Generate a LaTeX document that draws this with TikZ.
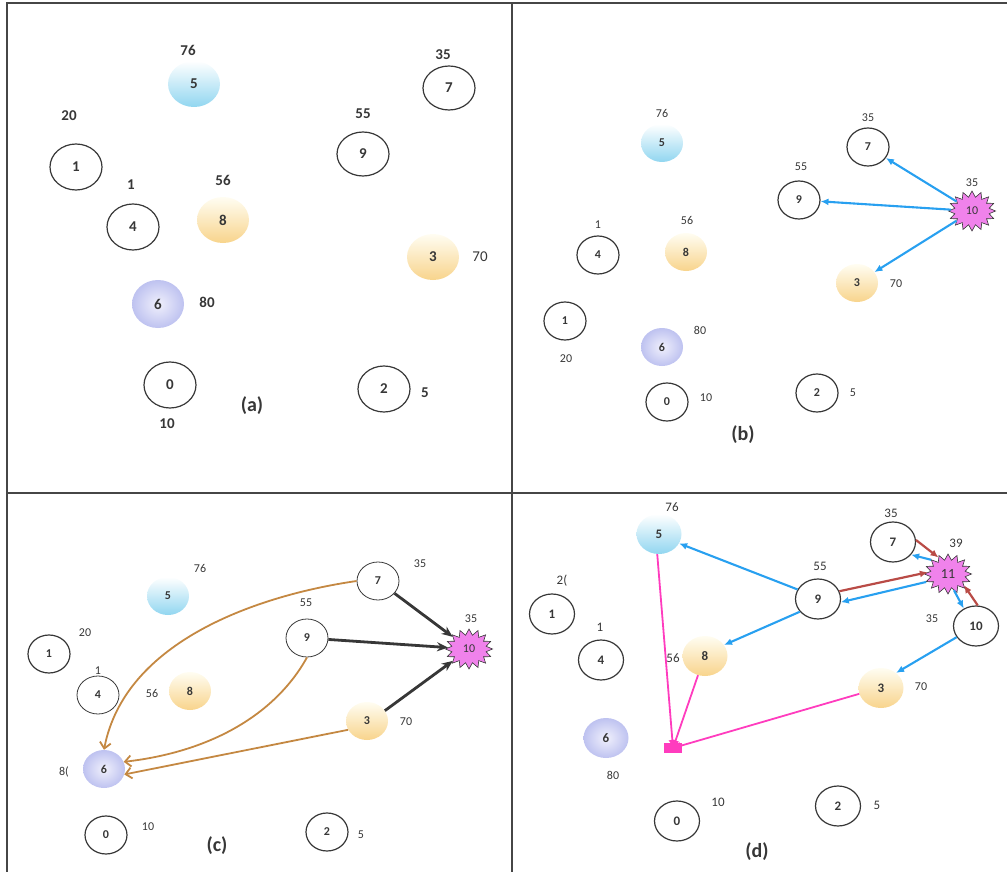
\documentclass[tikz,border=0pt]{standalone}
\usepackage{fontspec}
\setmainfont{Carlito}
\usetikzlibrary{shapes.geometric,shapes.symbols,arrows.meta}
\definecolor{txt}{RGB}{55,55,55}
\definecolor{frame}{RGB}{70,70,70}
\definecolor{cyanb}{RGB}{145,214,240}
\definecolor{orangeb}{RGB}{248,212,140}
\definecolor{blueb}{RGB}{190,194,240}
\definecolor{starfill}{RGB}{240,130,235}
\definecolor{arrblue}{RGB}{40,160,240}
\definecolor{arrbrown}{RGB}{196,136,66}
\definecolor{arrred}{RGB}{185,75,70}
\definecolor{arrpink}{RGB}{255,60,190}
\definecolor{arrblack}{RGB}{55,55,55}
\tikzset{
  ring/.style={ellipse, draw=txt, line width=1.2pt, inner sep=0pt, text=txt},
  cball/.style={ellipse, inner sep=0pt, text=txt, top color=white, bottom color=cyanb},
  oball/.style={ellipse, inner sep=0pt, text=txt, top color={rgb,255:red,255;green,253;blue,242}, bottom color=orangeb},
  bball/.style={ellipse, inner sep=0pt, text=txt, inner color={rgb,255:red,240;green,240;blue,252}, outer color=blueb},
  burst/.style={starburst, starburst points=16, starburst point height=6pt, random starburst=0,
     fill=starfill, draw=txt, line width=0.6pt, inner sep=0pt, text=txt},
  bigsz/.style={minimum width=52pt, minimum height=46pt, font=\fontsize{15}{15}\selectfont\bfseries},
  smsz/.style={minimum width=42pt, minimum height=38pt, font=\fontsize{12}{12}\selectfont\bfseries},
  dsz/.style={minimum width=45pt, minimum height=40pt, font=\fontsize{13}{13}\selectfont\bfseries},
  burstsz/.style={minimum width=47pt, minimum height=40pt, font=\fontsize{12}{12}\selectfont},
  labA/.style={inner sep=0pt, text=txt, font=\fontsize{15}{15}\selectfont\bfseries},
  labS/.style={inner sep=0pt, text=txt, font=\fontsize{12}{12}\selectfont},
  tag/.style={inner sep=0pt, text=txt, font=\fontsize{20}{20}\selectfont\bfseries},
  bluearr/.style={draw=arrblue, line width=2.1pt, -{Latex[length=8pt,width=7pt]}},
  redarr/.style={draw=arrred, line width=2.2pt, -{Latex[length=8pt,width=7pt]}},
  blackarr/.style={draw=arrblack, line width=2.8pt, -{Stealth[length=11pt,width=9pt]}},
  brownarr/.style={draw=arrbrown, line width=1.8pt, -{Straight Barb[length=6pt,width=11pt,line width=1.8pt]}},
  pinkarr/.style={draw=arrpink, line width=1.8pt, -{Latex[length=8pt,width=8pt]}},
}
\begin{document}
\begin{tikzpicture}[x=1pt,y=-1pt]
\useasboundingbox (0,0) rectangle (1007,872);
% frame
\draw[frame, line width=1.4pt] (7,872) -- (7,3) -- (1007,3);
\draw[frame, line width=1.4pt] (512,3) -- (512,872);
\draw[frame, line width=1.4pt] (7,493) -- (1007,493);

% ---------------- panel (a)
\node[cball,bigsz] (a5) at (194,84) {5};
\node[labA] (a5l) at (188,50) {76};
\node[ring,bigsz,minimum height=44pt] (a7) at (449,88) {7};
\node[labA] (a7l) at (443,55) {35};
\node[labA] (a1l) at (69,116) {20};
\node[ring,bigsz] (a1) at (76,167) {1};
\node[labA] (a9l) at (363,114) {55};
\node[ring,bigsz,minimum height=44pt] (a9) at (363,154) {9};
\node[labA] (a4l) at (131,185) {1};
\node[labA] (a8l) at (223,180) {56};
\node[ring,bigsz] (a4) at (133,227) {4};
\node[oball,bigsz] (a8) at (223,220) {8};
\node[oball,bigsz] (a3) at (433,257) {3};
\node[labA,font=\fontsize{15}{15}\selectfont] (a3l) at (480,257) {70};
\node[bball,bigsz,minimum height=48pt] (a6) at (158,304) {6};
\node[labA] (a6l) at (207,302) {80};
\node[ring,bigsz] (a0) at (170,385) {0};
\node[labA] (a0l) at (167,424) {10};
\node[ring,bigsz] (a2) at (384,389) {2};
\node[labA] (a2l) at (425,393) {5};
\node[tag] (ta) at (252,406) {(a)};

% ---------------- panel (b)
\node[labS] (b5l) at (662,113) {76};
\node[cball,smsz] (b5) at (662,143) {5};
\node[labS] (b7l) at (868,118) {35};
\node[ring,smsz] (b7) at (868,147) {7};
\node[labS] (b9l) at (801,167) {55};
\node[ring,smsz] (b9) at (799,200) {9};
\node[labS] (b10l) at (972,183) {35};
\node[burst,burstsz] (b10) at (972,211) {10};
\node[labS] (b4l) at (598,225) {1};
\node[labS] (b8l) at (687,220) {56};
\node[ring,smsz] (b4) at (598,255) {4};
\node[oball,smsz] (b8) at (686,252) {8};
\node[oball,smsz] (b3) at (857,283) {3};
\node[labS] (b3l) at (896,284) {70};
\node[ring,smsz] (b1) at (565,321) {1};
\node[labS] (b1l) at (566,359) {20};
\node[bball,smsz] (b6) at (662,347) {6};
\node[labS] (b6l) at (700,330) {80};
\node[ring,smsz] (b0) at (667,402) {0};
\node[labS] (b0l) at (706,398) {10};
\node[ring,smsz] (b2) at (817,393) {2};
\node[labS] (b2l) at (853,393) {5};
\node[tag] (tb) at (743,435) {(b)};
\draw[bluearr] (b10) -- (b7);
\draw[bluearr] (b10) -- (b9);
\draw[bluearr] (b10) -- (b3);

% ---------------- panel (c)
\node[labS] (c5l) at (200,568) {76};
\node[cball,smsz] (c5) at (168,596) {5};
\node[labS] (c7l) at (420,564) {35};
\node[ring,smsz,line width=0.8pt] (c7) at (378,581) {7};
\node[labS] (c9l) at (306,603) {55};
\node[ring,smsz,line width=0.8pt] (c9) at (307,638) {9};
\node[labS] (c10l) at (471,619) {35};
\node[burst,burstsz] (c10) at (469,649) {10};
\node[ring,smsz] (c1) at (49,654) {1};
\node[labS] (c1l) at (85,633) {20};
\node[labS] (c4l) at (98,671) {1};
\node[ring,smsz,line width=0.8pt] (c4) at (98,695) {4};
\node[labS] (c8l) at (152,693) {56};
\node[oball,smsz] (c8) at (190,691) {8};
\node[oball,smsz] (c3) at (367,721) {3};
\node[labS] (c3l) at (406,722) {70};
\node[bball,smsz] (c6) at (104,769) {6};
\node[labS] (c6l) at (64,772) {8(};
\node[ring,smsz] (c0) at (106,835) {0};
\node[labS] (c0l) at (148,827) {10};
\node[ring,smsz] (c2) at (327,832) {2};
\node[labS] (c2l) at (361,835) {5};
\node[tag] (tc) at (217,846) {(c)};
\draw[blackarr] (c7) -- (c10);
\draw[blackarr] (c9) -- (c10);
\draw[blackarr] (c3.30) -- (c10);
\draw[brownarr] (c7.west) .. controls (260,595) and (125,640) .. (c6.north);
\draw[brownarr] (c9.south) .. controls (275,715) and (210,752) .. (c6.20);
\draw[brownarr] (c3.205) -- (c6.-15);

% ---------------- panel (d)
\node[labS,font=\fontsize{13}{13}\selectfont] (d5l) at (672,507) {76};
\node[cball,dsz] (d5) at (659,534) {5};
\node[labS,font=\fontsize{13}{13}\selectfont] (d7l) at (891,513) {35};
\node[ring,dsz] (d7) at (893,542) {7};
\node[labS,font=\fontsize{13}{13}\selectfont] (d11l) at (956,543) {39};
\node[burst,burstsz,font=\fontsize{14}{14}\selectfont] (d11) at (948,574) {11};
\node[labS,font=\fontsize{13}{13}\selectfont] (d1l) at (562,581) {2(};
\node[ring,dsz] (d1) at (552,614) {1};
\node[labS,font=\fontsize{13}{13}\selectfont] (d9l) at (820,566) {55};
\node[ring,dsz] (d9) at (818,599) {9};
\node[labS,font=\fontsize{12}{12}\selectfont] (d10l) at (932,619) {35};
\node[ring,dsz] (d10) at (976,626) {10};
\node[labS,font=\fontsize{13}{13}\selectfont] (d4l) at (600,627) {1};
\node[ring,dsz] (d4) at (601,660) {4};
\node[labS,font=\fontsize{13}{13}\selectfont] (d8l) at (673,658) {56};
\node[oball,dsz] (d8) at (705,656) {8};
\node[oball,dsz] (d3) at (881,688) {3};
\node[labS] (d3l) at (921,687) {70};
\node[bball,dsz] (d6) at (606,738) {6};
\node[labS] (d6l) at (613,775) {80};
\coordinate (J) at (673,748);
\node[ring,dsz] (d0) at (677,821) {0};
\node[labS,font=\fontsize{13}{13}\selectfont] (d0l) at (718,802) {10};
\node[ring,dsz] (d2) at (838,806) {2};
\node[labS,font=\fontsize{13}{13}\selectfont] (d2l) at (877,805) {5};
\node[tag] (td) at (757,852) {(d)};
\draw[bluearr] (d9.155) -- (d5.-25);
\draw[bluearr] (d9.215) -- (d8.30);
\draw[bluearr] (d11.200) -- (d9.-8);
\draw[redarr] (d9.20) -- (d11.175);
\draw[bluearr] (d11.140) -- (d7.-35);
\draw[redarr] (d7.5) -- (d11.120);
\draw[bluearr] (d11.-70) -- (d10.125);
\draw[redarr] (d10.85) -- (d11.-35);
\draw[bluearr] (d10.210) -- (d3.45);
\fill[arrpink] (664,743) rectangle (682,753);
\draw[pinkarr] (d5.265) -- (J);
\draw[pinkarr] (d8.250) -- (J);
\draw[pinkarr] (d3.195) -- (J);
\end{tikzpicture}
\end{document}
